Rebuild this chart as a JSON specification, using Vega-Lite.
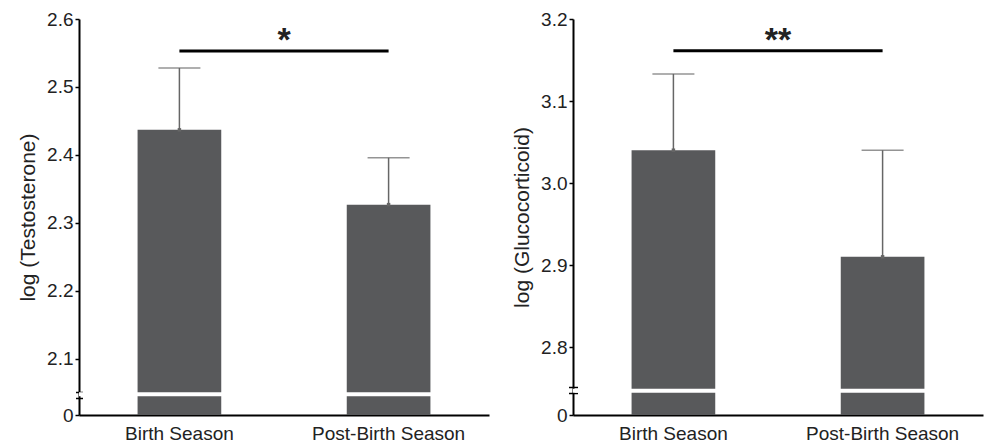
{
  "$schema": "https://vega.github.io/schema/vega-lite/v6.json",
  "padding": {"left": 17, "top": 10, "right": 0, "bottom": 0},
  "background": "white",
  "spacing": 20,
  "config": {
    "view": {"stroke": null},
    "font": "Liberation Sans",
    "axis": {
      "grid": false,
      "domainColor": "#000",
      "domainWidth": 2,
      "tickColor": "#000",
      "tickWidth": 1.5,
      "labelColor": "#222",
      "titleColor": "#222",
      "labelFont": "Liberation Sans",
      "titleFont": "Liberation Sans",
      "titleFontWeight": "normal",
      "labelFontSize": 19,
      "titleFontSize": 21,
      "zindex": 0
    }
  },
  "datasets": {
    "tMain": [
      {"season": "Birth Season", "mean": 2.437, "upper": 2.528},
      {"season": "Post-Birth Season", "mean": 2.327, "upper": 2.396}
    ],
    "tBreak": [{"gap": 2.0481}],
    "tSig": [{"from": "Birth Season", "to": "Post-Birth Season", "y": 2.553, "label": "*"}],
    "gMain": [
      {"season": "Birth Season", "mean": 3.040, "upper": 3.133},
      {"season": "Post-Birth Season", "mean": 2.910, "upper": 3.040}
    ],
    "gBreak": [{"gap": 2.7467}],
    "gSig": [{"from": "Birth Season", "to": "Post-Birth Season", "y": 3.1614, "label": "**"}]
  },
  "hconcat": [
    {
      "width": 410,
      "height": 396,
      "resolve": {"axis": {"y": "independent"}},
      "layer": [
        {
          "data": {"name": "tMain"},
          "mark": {"type": "bar", "color": "#58595b"},
          "encoding": {
            "x": {"field": "season", "type": "nominal", "sort": null,
              "scale": {"paddingInner": 0.6, "paddingOuter": 0.28},
              "axis": {"title": null, "labelAngle": 0, "tickSize": -4, "labelPadding": 13}},
            "y": {"field": "mean", "type": "quantitative",
              "scale": {"domain": [2.0176, 2.6], "nice": false, "zero": false, "clamp": true},
              "axis": {"title": "log (Testosterone)", "values": [2.0176, 2.1, 2.2, 2.3, 2.4, 2.5, 2.6],
                "labelExpr": "datum.value < 2.05 ? '0' : format(datum.value, '.1f')",
                "tickSize": 4, "labelPadding": 2, "titlePadding": 8}}
          }
        },
        {
          "data": {"name": "tBreak"},
          "mark": {"type": "rule", "color": "white", "strokeWidth": 4},
          "encoding": {
            "y": {"field": "gap", "type": "quantitative",
              "axis": {"orient": "left", "values": [2.0431, 2.051], "labels": false, "domain": false, "tickSize": 7, "offset": -3.5, "title": null}}
          }
        },
        {
          "data": {"name": "tMain"},
          "mark": {"type": "rule", "color": "#666", "strokeWidth": 1.5},
          "encoding": {
            "x": {"field": "season", "type": "nominal", "sort": null},
            "y": {"field": "mean", "type": "quantitative", "axis": null},
            "y2": {"field": "upper"}
          }
        },
        {
          "data": {"name": "tMain"},
          "mark": {"type": "tick", "color": "#666", "size": 42, "thickness": 1.5},
          "encoding": {
            "x": {"field": "season", "type": "nominal", "sort": null},
            "y": {"field": "upper", "type": "quantitative", "axis": null}
          }
        },
        {
          "data": {"name": "tMain"},
          "mark": {"type": "square", "color": "#666", "size": 12, "opacity": 1},
          "encoding": {
            "x": {"field": "season", "type": "nominal", "sort": null},
            "y": {"field": "mean", "type": "quantitative", "axis": null}
          }
        },
        {
          "data": {"name": "tSig"},
          "mark": {"type": "rule", "color": "#000", "strokeWidth": 3},
          "encoding": {
            "x": {"field": "from", "type": "nominal", "sort": null},
            "x2": {"field": "to"},
            "y": {"field": "y", "type": "quantitative", "axis": null}
          }
        },
        {
          "data": {"name": "tSig"},
          "mark": {"type": "text", "fontSize": 34, "fontWeight": "bold", "baseline": "alphabetic", "align": "center", "color": "#222"},
          "encoding": {
            "x": {"field": "from", "type": "nominal", "sort": null, "bandPosition": 1.75},
            "y": {"field": "y", "type": "quantitative", "axis": null},
            "text": {"field": "label"}
          }
        }
      ]
    },
    {
      "width": 410,
      "height": 396,
      "resolve": {"axis": {"y": "independent"}},
      "layer": [
        {
          "data": {"name": "gMain"},
          "mark": {"type": "bar", "color": "#58595b"},
          "encoding": {
            "x": {"field": "season", "type": "nominal", "sort": null,
              "scale": {"paddingInner": 0.6, "paddingOuter": 0.28},
              "axis": {"title": null, "labelAngle": 0, "tickSize": -4, "labelPadding": 13}},
            "y": {"field": "mean", "type": "quantitative",
              "scale": {"domain": [2.7171, 3.2], "nice": false, "zero": false, "clamp": true},
              "axis": {"title": "log (Glucocorticoid)", "values": [2.7171, 2.8, 2.9, 3.0, 3.1, 3.2],
                "labelExpr": "datum.value < 2.75 ? '0' : format(datum.value, '.1f')",
                "tickSize": 4, "labelPadding": 2, "titlePadding": 8}}
          }
        },
        {
          "data": {"name": "gBreak"},
          "mark": {"type": "rule", "color": "white", "strokeWidth": 4},
          "encoding": {
            "y": {"field": "gap", "type": "quantitative",
              "axis": {"orient": "left", "values": [2.7439, 2.7509], "labels": false, "domain": false, "tickSize": 9, "offset": -4.5, "title": null}}
          }
        },
        {
          "data": {"name": "gMain"},
          "mark": {"type": "rule", "color": "#666", "strokeWidth": 1.5},
          "encoding": {
            "x": {"field": "season", "type": "nominal", "sort": null},
            "y": {"field": "mean", "type": "quantitative", "axis": null},
            "y2": {"field": "upper"}
          }
        },
        {
          "data": {"name": "gMain"},
          "mark": {"type": "tick", "color": "#666", "size": 42, "thickness": 1.5},
          "encoding": {
            "x": {"field": "season", "type": "nominal", "sort": null},
            "y": {"field": "upper", "type": "quantitative", "axis": null}
          }
        },
        {
          "data": {"name": "gMain"},
          "mark": {"type": "square", "color": "#666", "size": 12, "opacity": 1},
          "encoding": {
            "x": {"field": "season", "type": "nominal", "sort": null},
            "y": {"field": "mean", "type": "quantitative", "axis": null}
          }
        },
        {
          "data": {"name": "gSig"},
          "mark": {"type": "rule", "color": "#000", "strokeWidth": 3},
          "encoding": {
            "x": {"field": "from", "type": "nominal", "sort": null},
            "x2": {"field": "to"},
            "y": {"field": "y", "type": "quantitative", "axis": null}
          }
        },
        {
          "data": {"name": "gSig"},
          "mark": {"type": "text", "fontSize": 34, "fontWeight": "bold", "baseline": "alphabetic", "align": "center", "color": "#222"},
          "encoding": {
            "x": {"field": "from", "type": "nominal", "sort": null, "bandPosition": 1.75},
            "y": {"field": "y", "type": "quantitative", "axis": null},
            "text": {"field": "label"}
          }
        }
      ]
    }
  ]
}
